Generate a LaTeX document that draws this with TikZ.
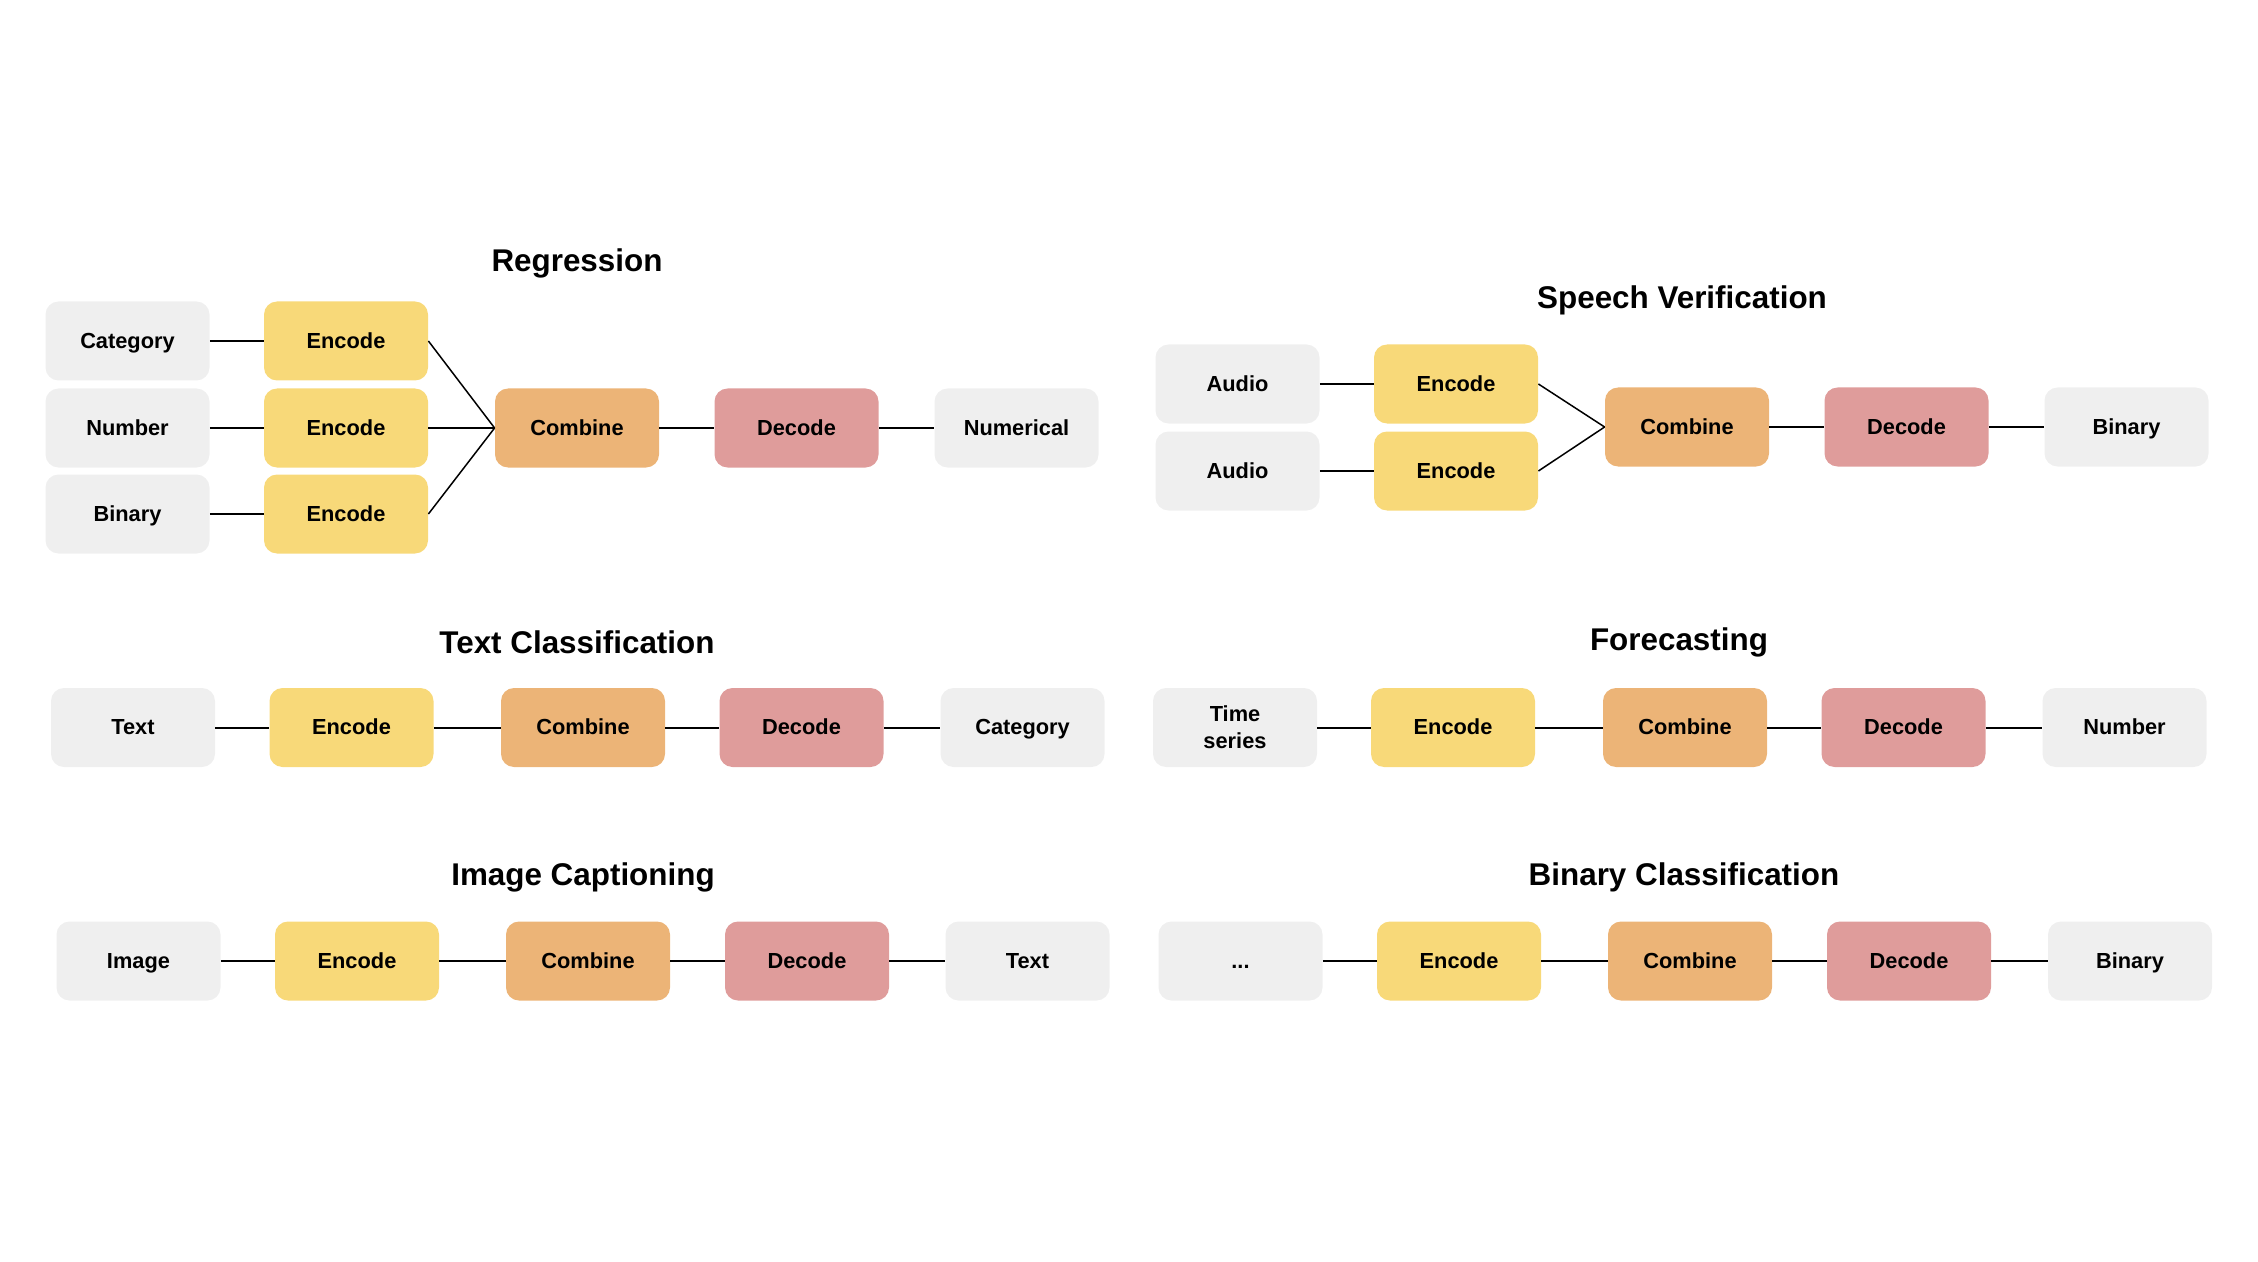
\documentclass[tikz,border=0pt]{standalone}
\usepackage{fontspec}
\setmainfont{Liberation Sans}
\definecolor{iogray}{HTML}{EFEFEF}
\definecolor{encyellow}{HTML}{F8D979}
\definecolor{comborange}{HTML}{ECB477}
\definecolor{decpink}{HTML}{DF9C9B}

\begin{document}
\begin{tikzpicture}[x=0.5pt,y=-0.5pt,
    box/.style={rectangle,rounded corners=6.5pt,minimum width=82pt,minimum height=39.5pt,
      inner sep=0pt,align=center,text height=0.92em,text depth=0.2em,
      font=\fontsize{10.9}{13.3}\selectfont\bfseries},
    io/.style={box,fill=iogray},
    enc/.style={box,fill=encyellow},
    comb/.style={box,fill=comborange},
    dec/.style={box,fill=decpink},
    heading/.style={font=\fontsize{15.7}{19}\selectfont\bfseries},
    link/.style={line width=1pt},
    slant/.style={line width=0.75pt}]
      \useasboundingbox (0,0) rectangle (2258,1262);

      \node[heading] (regtitle) at (577,263) {Regression};
      \node[io] (regin1) at (127.5,341) {Category};
      \node[io] (regin2) at (127.5,428) {Number};
      \node[io] (regin3) at (127.5,514) {Binary};
      \node[enc] (regenc1) at (346,341) {Encode};
      \node[enc] (regenc2) at (346,428) {Encode};
      \node[enc] (regenc3) at (346,514) {Encode};
      \node[comb] (regcomb) at (577,428) {Combine};
      \node[dec] (regdec) at (796.5,428) {Decode};
      \node[io] (regout) at (1016.5,428) {Numerical};
      \draw[link] (regin1) -- (regenc1);
      \draw[link] (regin2) -- (regenc2);
      \draw[link] (regin3) -- (regenc3);
      \draw[slant] (regenc1.east) -- (regcomb.west);
      \draw[link] (regenc2.east) -- (regcomb.west);
      \draw[slant] (regenc3.east) -- (regcomb.west);
      \draw[link] (regcomb) -- (regdec);
      \draw[link] (regdec) -- (regout);

      \node[heading] (spvtitle) at (1682,300) {Speech Verification};
      \node[io] (spvin1) at (1237.5,384) {Audio};
      \node[io] (spvin2) at (1237.5,471) {Audio};
      \node[enc] (spvenc1) at (1456,384) {Encode};
      \node[enc] (spvenc2) at (1456,471) {Encode};
      \node[comb] (spvcomb) at (1687,427) {Combine};
      \node[dec] (spvdec) at (1906.5,427) {Decode};
      \node[io] (spvout) at (2126.5,427) {Binary};
      \draw[link] (spvin1) -- (spvenc1);
      \draw[link] (spvin2) -- (spvenc2);
      \draw[slant] (spvenc1.east) -- (spvcomb.west);
      \draw[slant] (spvenc2.east) -- (spvcomb.west);
      \draw[link] (spvcomb) -- (spvdec);
      \draw[link] (spvdec) -- (spvout);

      \node[heading] (txttitle) at (577,642) {Text Classification};
      \node[io] (txtin) at (133,727.5) {Text};
      \node[enc] (txtenc) at (351.5,727.5) {Encode};
      \node[comb] (txtcomb) at (583,727.5) {Combine};
      \node[dec] (txtdec) at (801.5,727.5) {Decode};
      \node[io] (txtout) at (1022.5,727.5) {Category};
      \draw[link] (txtin) -- (txtenc) -- (txtcomb) -- (txtdec) -- (txtout);

      \node[heading] (fortitle) at (1679,642) {Forecasting};
      \node[io,text height={},text depth={}] (forin) at (1235,727.5) {Time\\series};
      \node[enc] (forenc) at (1453,727.5) {Encode};
      \node[comb] (forcomb) at (1685,727.5) {Combine};
      \node[dec] (fordec) at (1903.5,727.5) {Decode};
      \node[io] (forout) at (2124.5,727.5) {Number};
      \draw[link] (forin) -- (forenc) -- (forcomb) -- (fordec) -- (forout);

      \node[heading] (imgtitle) at (583,877) {Image Captioning};
      \node[io] (imgin) at (138.5,961) {Image};
      \node[enc] (imgenc) at (357,961) {Encode};
      \node[comb] (imgcomb) at (588,961) {Combine};
      \node[dec] (imgdec) at (807,961) {Decode};
      \node[io] (imgout) at (1027.5,961) {Text};
      \draw[link] (imgin) -- (imgenc) -- (imgcomb) -- (imgdec) -- (imgout);

      \node[heading] (bintitle) at (1684,877) {Binary Classification};
      \node[io] (binin) at (1240.5,961) {...};
      \node[enc] (binenc) at (1459,961) {Encode};
      \node[comb] (bincomb) at (1690,961) {Combine};
      \node[dec] (bindec) at (1909,961) {Decode};
      \node[io] (binout) at (2130,961) {Binary};
      \draw[link] (binin) -- (binenc) -- (bincomb) -- (bindec) -- (binout);
    \end{tikzpicture}
\end{document}
